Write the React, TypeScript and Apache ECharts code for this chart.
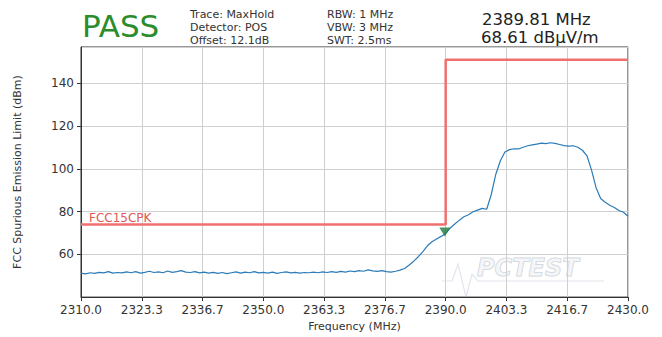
import React, { useEffect, useRef } from 'react';
import * as echarts from 'echarts';

// ---- data ----
const FREQ_START = 2310; // MHz
const FREQ_STEP = 1; // MHz
const TRACE_DBM = [
  51.2, 50.9, 51.4, 51.1, 51.6, 51.3, 51.9, 51.2, 51.5, 51.3,
  51.8, 51.4, 51.9, 51.2, 51.6, 52.1, 51.5, 51.8, 51.4, 52.2,
  51.6, 51.9, 52.4, 51.7, 51.5, 51.9, 51.3, 51.7, 51.2, 51.6,
  51.1, 51.5, 51.0, 51.4, 51.8, 51.2, 51.7, 51.4, 51.9, 51.3,
  51.6, 51.2, 51.7, 51.1, 51.5, 51.8, 51.3, 51.6, 51.2, 51.5,
  51.4, 51.7, 51.4, 51.8, 51.5, 51.9, 51.6, 52.0, 51.7, 52.2,
  51.9, 52.4, 52.1, 52.7, 52.3, 52.0, 52.4, 51.9, 51.7, 52.1,
  52.6, 53.4, 55.0, 56.8, 58.9, 61.3, 64.0, 65.9, 67.2, 68.4,
  69.8, 72.3, 74.2, 76.0, 77.6, 78.5, 79.9, 80.7, 81.5, 81.1,
  88.0, 97.5, 103.8, 107.9, 109.0, 109.4, 109.3, 110.1, 110.8, 111.2,
  111.6, 112.0, 111.8, 112.2, 111.9, 111.4, 110.9, 110.6, 110.8, 110.1,
  108.7, 106.1, 99.4, 91.2, 86.1, 84.4, 83.0, 81.9, 80.5, 79.7,
  77.8,
];
const LIMIT_FREQ = [2310, 2390, 2390, 2430];
const LIMIT_DBM = [74, 74, 151, 151];
const LIMIT_NAME = 'FCC15CPK';
const MARKER_FREQ = 2389.81;
const MARKER_LEVEL = 68.61;
const X_TICK_LABELS = ['2310.0', '2323.3', '2336.7', '2350.0', '2363.3', '2376.7', '2390.0', '2403.3', '2416.7', '2430.0'];
const Y_TICKS = [60, 80, 100, 120, 140];
const X_MIN = 2310;
const X_MAX = 2430;
const Y_MIN = 40;
const Y_MAX = 157;

const HEADER_LEFT = ['Trace: MaxHold', 'Detector: POS', 'Offset: 12.1dB'];
const HEADER_MID = ['RBW: 1 MHz', 'VBW: 3 MHz', 'SWT: 2.5ms'];
const MARKER_TEXT = ['2389.81 MHz', '68.61 dB\u00b5V/m'];

// x axis runs in tick-index units (0..9) so that ticks fall exactly on the labels
const NUM_DIV = X_TICK_LABELS.length - 1;
const toX = (f: number) => ((f - X_MIN) * NUM_DIV) / (X_MAX - X_MIN);

const FONT = '"DejaVu Sans", Verdana, sans-serif';

export default function App() {
  const ref = useRef<HTMLDivElement>(null);

  useEffect(() => {
    document.body.style.margin = '0';
    if (!ref.current) return;
    const chart = echarts.init(ref.current, undefined, { renderer: 'svg' });

    const traceData = TRACE_DBM.map((v, i) => [toX(FREQ_START + i * FREQ_STEP), v]);
    const limitData = LIMIT_FREQ.map((f, i) => [toX(f), LIMIT_DBM[i]]);

    const lineText = (t: string, x: number, y: number, size: number, color: string) => ({
      type: 'text',
      x,
      y,
      silent: true,
      style: { text: t, fill: color, font: `${size}px ${FONT}`, verticalAlign: 'middle' },
    });

    chart.setOption({
      animation: false,
      backgroundColor: '#fff',
      textStyle: { fontFamily: FONT },
      grid: {
        left: 81,
        right: 34,
        top: 47,
        bottom: 39,
        show: true,
        borderColor: '#333',
        borderWidth: 1,
        backgroundColor: 'transparent',
      },
      xAxis: {
        type: 'value',
        min: 0,
        max: NUM_DIV,
        interval: 1,
        name: 'Frequency (MHz)',
        nameLocation: 'middle',
        nameGap: 23,
        nameTextStyle: { fontSize: 11, color: '#333', fontFamily: FONT },
        axisLine: { show: true, lineStyle: { color: '#333', width: 1 } },
        axisTick: { show: true, inside: false, length: 4, lineStyle: { color: '#333' } },
        axisLabel: {
          color: '#333',
          fontSize: 12,
          margin: 7,
          fontFamily: FONT,
          formatter: (v: number) => X_TICK_LABELS[Math.round(v)] ?? '',
        },
        splitLine: { show: true, lineStyle: { color: '#cfcfcf', width: 1 } },
      },
      yAxis: {
        type: 'value',
        min: Y_MIN,
        max: Y_MAX,
        interval: 20,
        name: 'FCC Spurious Emission Limit (dBm)',
        nameLocation: 'middle',
        nameGap: 58,
        nameTextStyle: { fontSize: 11, color: '#333', fontFamily: FONT },
        axisLine: { show: true, lineStyle: { color: '#333', width: 1 } },
        axisTick: { show: true, inside: false, length: 4, lineStyle: { color: '#333' } },
        axisLabel: {
          color: '#333',
          fontSize: 12,
          margin: 7,
          fontFamily: FONT,
          showMinLabel: false,
          showMaxLabel: false,
          formatter: (v: number) => (Y_TICKS.includes(v) ? String(v) : ''),
        },
        splitLine: { show: true, lineStyle: { color: '#cfcfcf', width: 1 } },
      },
      series: [
        {
          type: 'line',
          name: LIMIT_NAME,
          data: limitData,
          showSymbol: false,
          symbol: 'none',
          lineStyle: { color: '#f07070', width: 2.5 },
          z: 3,
        },
        {
          type: 'line',
          name: 'Trace',
          data: traceData,
          showSymbol: false,
          symbol: 'none',
          lineStyle: { color: '#2b7bb9', width: 1.2 },
          z: 4,
        },
        {
          type: 'scatter',
          name: 'Marker',
          data: [[toX(MARKER_FREQ), MARKER_LEVEL]],
          symbol: 'triangle',
          symbolRotate: 180,
          symbolSize: [11, 9],
          symbolOffset: [0, -4],
          itemStyle: { color: '#1e7a3c' },
          z: 5,
        },
      ],
      graphic: [
        {
          type: 'text',
          x: 82,
          y: 26,
          silent: true,
          style: { text: 'PASS', fill: '#2b8c2b', font: `31px ${FONT}`, verticalAlign: 'middle' },
        },
        ...HEADER_LEFT.map((t, i) => lineText(t, 190, 14 + i * 13, 11, '#333')),
        ...HEADER_MID.map((t, i) => lineText(t, 327, 14 + i * 13, 11, '#333')),
        lineText(MARKER_TEXT[0], 482, 19.5, 16.5, '#222'),
        lineText(MARKER_TEXT[1], 481, 37.5, 16.5, '#222'),
        {
          type: 'text',
          x: 89,
          y: 218,
          silent: true,
          z: 10,
          style: { text: LIMIT_NAME, fill: '#e05858', font: `12px ${FONT}`, verticalAlign: 'middle' },
        },
        // faint watermark
        {
          type: 'polyline',
          silent: true,
          z: 0,
          shape: { points: [[442, 281], [452, 281], [458, 264], [466, 297], [472, 274], [478, 281], [604, 281]] },
          style: { stroke: 'rgba(170,180,200,0.35)', lineWidth: 1.2, fill: 'none' },
        },
        {
          type: 'text',
          x: 477,
          y: 268,
          silent: true,
          z: 0,
          style: {
            text: 'PCTEST',
            fill: 'rgba(235,237,242,0.5)',
            stroke: 'rgba(165,172,185,0.55)',
            lineWidth: 1,
            font: `italic bold 24px ${FONT}`,
            verticalAlign: 'middle',
          },
        },
      ],
    });

    return () => chart.dispose();
  }, []);

  return <div ref={ref} style={{ width: 662, height: 337 }} />;
}
